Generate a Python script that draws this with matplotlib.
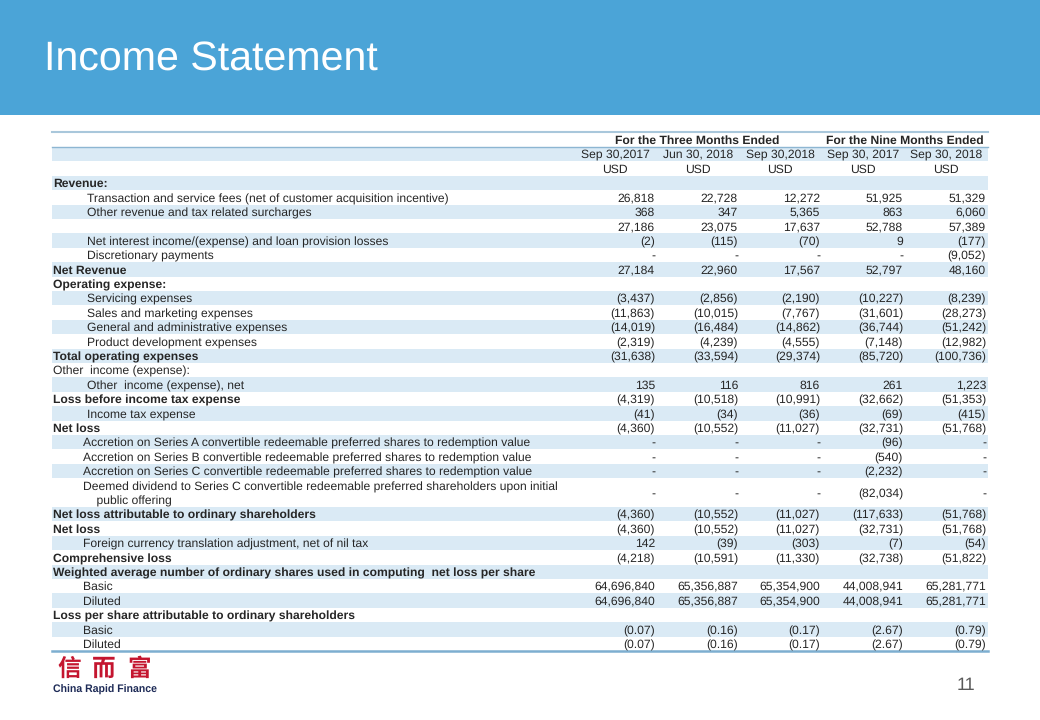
import math
import matplotlib.pyplot as plt
from matplotlib.patches import Rectangle
from matplotlib.font_manager import FontProperties
from matplotlib.backends.backend_agg import get_hinting_flag

plt.rcParams['text.hinting'] = 'no_hinting'

## == table content == ##
labels = [
    "Revenue:",
    "Transaction and service fees (net of customer acquisition incentive)",
    "Other revenue and tax related surcharges",
    "",
    "Net interest income/(expense) and loan provision losses",
    "Discretionary payments",
    "Net Revenue",
    "Operating expense:",
    "Servicing expenses",
    "Sales and marketing expenses",
    "General and administrative expenses",
    "Product development expenses",
    "Total operating expenses",
    "Other  income (expense):",
    "Other  income (expense), net",
    "Loss before income tax expense",
    "Income tax expense",
    "Net loss",
    "Accretion on Series A convertible redeemable preferred shares to redemption value",
    "Accretion on Series B convertible redeemable preferred shares to redemption value",
    "Accretion on Series C convertible redeemable preferred shares to redemption value",
    "Deemed dividend to Series C convertible redeemable preferred shareholders upon initial\n    public offering",
    "Net loss attributable to ordinary shareholders",
    "Net loss",
    "Foreign currency translation adjustment, net of nil tax",
    "Comprehensive loss",
    "Weighted average number of ordinary shares used in computing  net loss per share",
    "Basic",
    "Diluted",
    "Loss per share attributable to ordinary shareholders",
    "Basic",
    "Diluted",
]

q3_2017 = ["", "26,818", "368", "27,186", "(2)", "-", "27,184", "", "(3,437)", "(11,863)",
           "(14,019)", "(2,319)", "(31,638)", "", "135", "(4,319)", "(41)", "(4,360)", "-", "-",
           "-", "-", "(4,360)", "(4,360)", "142", "(4,218)", "", "64,696,840", "64,696,840", "",
           "(0.07)", "(0.07)"]
q2_2018 = ["", "22,728", "347", "23,075", "(115)", "-", "22,960", "", "(2,856)", "(10,015)",
           "(16,484)", "(4,239)", "(33,594)", "", "116", "(10,518)", "(34)", "(10,552)", "-", "-",
           "-", "-", "(10,552)", "(10,552)", "(39)", "(10,591)", "", "65,356,887", "65,356,887", "",
           "(0.16)", "(0.16)"]
q3_2018 = ["", "12,272", "5,365", "17,637", "(70)", "-", "17,567", "", "(2,190)", "(7,767)",
           "(14,862)", "(4,555)", "(29,374)", "", "816", "(10,991)", "(36)", "(11,027)", "-", "-",
           "-", "-", "(11,027)", "(11,027)", "(303)", "(11,330)", "", "65,354,900", "65,354,900", "",
           "(0.17)", "(0.17)"]
nm_2017 = ["", "51,925", "863", "52,788", "9", "-", "52,797", "", "(10,227)", "(31,601)",
           "(36,744)", "(7,148)", "(85,720)", "", "261", "(32,662)", "(69)", "(32,731)", "(96)", "(540)",
           "(2,232)", "(82,034)", "(117,633)", "(32,731)", "(7)", "(32,738)", "", "44,008,941", "44,008,941", "",
           "(2.67)", "(2.67)"]
nm_2018 = ["", "51,329", "6,060", "57,389", "(177)", "(9,052)", "48,160", "", "(8,239)", "(28,273)",
           "(51,242)", "(12,982)", "(100,736)", "", "1,223", "(51,353)", "(415)", "(51,768)", "-", "-",
           "-", "-", "(51,768)", "(51,768)", "(54)", "(51,822)", "", "65,281,771", "65,281,771", "",
           "(0.79)", "(0.79)"]

periods = ["Sep 30,2017", "Jun 30, 2018", "Sep 30,2018", "Sep 30, 2017", "Sep 30, 2018"]
groups = ["For the Three Months Ended", "For the Nine Months Ended"]

# b = bold heading, p = plain heading, i = indented line
kinds = "biiiiibbiiiibpibibiiiibbibbiibii"

## == layout == ##
L, R = 52, 988
step = 14.4
top = 132.6
col_right = [655, 738, 820, 903, 986]
shade = '#DAEAF5'
txt = '#262626'
fs = 8.75
font = 'Liberation Sans'
base = 4.3   # centre -> baseline offset in pixels

fig = plt.figure(figsize=(10.4, 7.2), dpi=100)
ax = fig.add_axes([0, 0, 1, 1])
ax.set_xlim(0, 1040)
ax.set_ylim(720, 0)
ax.axis('off')
renderer = fig.canvas.get_renderer()


def put(x, yc, s, ha='left', weight='normal'):
    if not s:
        return
    prop = FontProperties(family=font, size=fs, weight=weight)
    # agg places each string's bitmap from its own bbox, which can shift it by a pixel;
    # work out that shift so every string sits on the same pixel baseline
    f = renderer._prepare_font(prop)
    f.set_text(s, 0, flags=get_hinting_flag())
    d = f.get_descent() / 64
    h = f.get_width_height()[1] / 64
    B = round(yc + base)
    yb = B + math.floor(h) - math.floor(h - d) - d
    ax.text(x, yb, s, ha=ha, va='baseline', color=txt, fontproperties=prop)


# title band
ax.add_patch(Rectangle((0, 0), 1040, 115, color='#4BA4D7', lw=0))
ax.text(44, 60, 'Income Statement', color='white', fontsize=29.6, va='center', family=font)

# header rows
y = top
for g in range(3):
    if g % 2 == 1:
        ax.add_patch(Rectangle((L, y), R - L, step, color=shade, lw=0))
    y += step
yc = top + step / 2
put((col_right[0] + col_right[2]) / 2 - 40, yc, groups[0], ha='center', weight='bold')
put((col_right[3] + col_right[4]) / 2 - 40, yc, groups[1], ha='center', weight='bold')
for c, p in zip(col_right, periods):
    put(c - 40, yc + step, p, ha='center')
    put(c - 40, yc + 2 * step, 'USD', ha='center')

# data rows
cols = [q3_2017, q2_2018, q3_2018, nm_2017, nm_2018]
g = 3
for k, lab in enumerate(labels):
    h = step * 2 if '\n' in lab else step
    if g % 2 == 1:
        ax.add_patch(Rectangle((L, y), R - L, h, color=shade, lw=0))
    yc = y + h / 2
    kind = kinds[k]
    if kind == 'i':
        x = 83 if k >= 17 else 87
        if '\n' in lab:
            first, second = lab.split('\n')
            put(x, yc - 7.2, first)
            put(x, yc + 7.2, second)
        else:
            put(x, yc, lab)
    else:
        put(53, yc, lab, weight='bold' if kind == 'b' else 'normal')
    for c, vals in zip(col_right, cols):
        put(c, yc, vals[k], ha='right')
    y += h
    g += 1

# rules
ax.plot([L, R], [132, 132], color='#A9C7DB', lw=1.5)
ax.plot([L, R], [top + step, top + step], color='#8DB6D2', lw=1)
ax.plot([L, R], [y, y], color='#7DAED0', lw=1.8)

# footer logo and page number
for x, ch in zip([69, 104, 139], "信而富"):
    ax.text(x, 669, ch, ha='center', va='center', fontsize=17, color='#C4152F',
            family='Noto Sans CJK SC', weight='bold')
ax.text(53, 693, 'China Rapid Finance', ha='left', va='baseline', fontsize=7.6,
        color='#1E2B57', weight='bold', family=font)
ax.text(975, 690, '11', ha='right', va='baseline', fontsize=13, color='#595959', family=font)

fig.savefig('out.png', dpi=100)
